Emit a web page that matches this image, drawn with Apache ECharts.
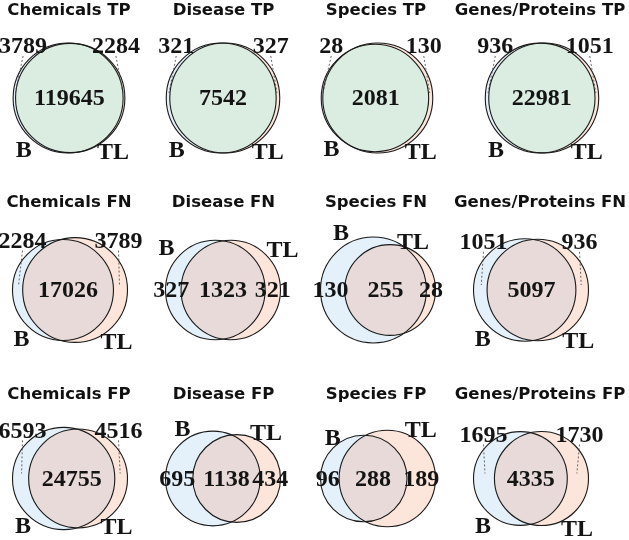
<!DOCTYPE html>
<html><head><meta charset="utf-8">
<script src="https://cdn.jsdelivr.net/npm/echarts@6/dist/echarts.min.js"></script>
<style>html,body{margin:0;padding:0;background:#fff}#c{width:629px;height:540px}</style>
</head><body><div id="c"></div><script>
// ---------------- data ----------------
const panelTitles = ['Chemicals TP','Disease TP','Species TP','Genes/Proteins TP',
                     'Chemicals FN','Disease FN','Species FN','Genes/Proteins FN',
                     'Chemicals FP','Disease FP','Species FP','Genes/Proteins FP'];
const onlyB  = [3789, 321, 28, 936,   2284, 327, 130, 1051,   6593, 695, 96, 1695];
const onlyTL = [2284, 327, 130, 1051, 3789, 321, 28, 936,     4516, 434, 189, 1730];
const both   = [119645, 7542, 2081, 22981, 17026, 1323, 255, 5097, 24755, 1138, 288, 4335];
const setNames = ['B', 'TL'];

// ---------------- layout ----------------
const centerX = [[69, 223, 377, 542], [70, 223, 378, 531], [70, 223, 378, 531]];
const rowY = [98, 290, 482];
const titleX = [69, 223.5, 376, 540];
const titleTop = [2, 194, 386];
const insideStyle = [false,false,false,false, false,true,true,false, false,true,true,false];
// set-label placement: [angle B, extra B, angle TL, extra TL]
const setLabelPos = [
  [130,14,52,15],[130,14,52,15],[130,14,52,15],[130,14,52,15],
  [130,14,52,15],[140,14,37,15],[120,12,64,7],[130,14,52,15],
  [130,12,52,13],[122,10,57,10],[128,7,55,10],[128,14,55,15]];
const lensColor = ['#dbece1', '#e7dad8', '#e7dad8'];
const colB = '#e4f1fb', colTL = '#fce5da';
const G = 130, FITW = 115, FITH = 110;

function lensArea(r1, r2, d) {
  if (d >= r1 + r2) return 0;
  if (d <= Math.abs(r1 - r2)) return Math.PI * Math.min(r1, r2) ** 2;
  const a1 = Math.acos((d*d + r1*r1 - r2*r2) / (2*d*r1));
  const a2 = Math.acos((d*d + r2*r2 - r1*r1) / (2*d*r2));
  return r1*r1*a1 + r2*r2*a2 - 0.5*Math.sqrt((-d+r1+r2)*(d+r1-r2)*(d-r1+r2)*(d+r1+r2));
}
function solveD(r1, r2, target) {
  let lo = Math.abs(r1 - r2), hi = r1 + r2;
  for (let it = 0; it < 80; it++) {
    const m = (lo + hi) / 2;
    if (lensArea(r1, r2, m) > target) lo = m; else hi = m;
  }
  return (lo + hi) / 2;
}

const numFont = {fontFamily: 'Liberation Serif', fontWeight: 'bold', fontSize: 24};
function txt(text, x, y) {
  return {type: 'text', x: x, y: y, z2: 10,
    style: Object.assign({text: String(text), fill: '#141414', align: 'center', verticalAlign: 'middle'}, numFont)};
}
function leader(x1, y1, x2, y2) {
  return {type: 'line', z2: 8, shape: {x1, y1, x2, y2},
    style: {stroke: '#444', lineWidth: 0.8, lineDash: [2, 2], fill: null}};
}

function makeRender(i, row) {
  return function (params, api) {
    const d = api.value(1), r1 = api.value(2), r2 = api.value(3);
    const p1 = api.coord([0, 0]), p2 = api.coord([d, 0]);
    const X1 = p1[0], X2 = p2[0], Y = p1[1];
    const R1 = api.size([r1, 0])[0], R2 = api.size([r2, 0])[0];
    const D = X2 - X1;
    const ch = [];
    ch.push({type: 'circle', shape: {cx: X1, cy: Y, r: R1}, style: {fill: colB, stroke: null}});
    ch.push({type: 'circle', shape: {cx: X2, cy: Y, r: R2}, style: {fill: colTL, stroke: null}});
    if (D <= Math.abs(R1 - R2)) {
      const small = R1 < R2 ? {cx: X1, r: R1} : {cx: X2, r: R2};
      ch.push({type: 'circle', shape: {cx: small.cx, cy: Y, r: small.r}, style: {fill: lensColor[row]}});
    } else {
      const a = (D*D + R1*R1 - R2*R2) / (2*D);
      const t1 = Math.acos(Math.max(-1, Math.min(1, a / R1)));
      const t2 = Math.acos(Math.max(-1, Math.min(1, (D - a) / R2)));
      const pts = [];
      const N = 90;
      for (let j = 0; j <= N; j++) { const t = -t1 + 2*t1*j/N; pts.push([X1 + R1*Math.cos(t), Y + R1*Math.sin(t)]); }
      for (let j = 0; j <= N; j++) { const t = Math.PI - t2 + 2*t2*j/N; pts.push([X2 + R2*Math.cos(t), Y + R2*Math.sin(t)]); }
      ch.push({type: 'polygon', shape: {points: pts}, style: {fill: lensColor[row]}});
    }
    ch.push({type: 'circle', shape: {cx: X1, cy: Y, r: R1}, style: {fill: null, stroke: '#1a1a1a', lineWidth: 1.1}});
    ch.push({type: 'circle', shape: {cx: X2, cy: Y, r: R2}, style: {fill: null, stroke: '#1a1a1a', lineWidth: 1.1}});

    const bL = X1 - R1, bR = X1 + R1, tL = X2 - R2, tR = X2 + R2;
    const uL = Math.min(bL, tL), uR = Math.max(bR, tR), hh = Math.max(R1, R2);
    const uT = Y - hh;
    const vB = api.value(4), vT = api.value(5), vBoth = api.value(6);
    const deg = Math.PI / 180;
    const sp = setLabelPos[i];
    if (!insideStyle[i]) {
      const lx = uL + 10, rx = uR - 9, ny = uT + 4;
      ch.push(txt(vB, lx, ny));
      ch.push(txt(vT, rx, ny));
      ch.push(leader(lx, ny + 9, (bL + tL) / 2 + 1, Y - 5));
      ch.push(leader(rx, ny + 9, (bR + tR) / 2 - 1, Y - 5));
      ch.push(txt(vBoth, (tL + bR) / 2, Y + 1));
      ch.push(txt(setNames[0], X1 + (R1 + sp[1]) * Math.cos(sp[0]*deg), Y + (R1 + sp[1]) * Math.sin(sp[0]*deg)));
      ch.push(txt(setNames[1], X2 + (R2 + sp[3]) * Math.cos(sp[2]*deg), Y + (R2 + sp[3]) * Math.sin(sp[2]*deg)));
    } else {
      ch.push(txt(vB, (bL + tL) / 2 - 2, Y + 1));
      ch.push(txt(vT, (bR + tR) / 2, Y + 1));
      ch.push(txt(vBoth, (tL + bR) / 2, Y + 1));
      ch.push(txt(setNames[0], X1 + (R1 + sp[1]) * Math.cos(sp[0]*deg), Y - (R1 + sp[1]) * Math.sin(sp[0]*deg)));
      ch.push(txt(setNames[1], X2 + (R2 + sp[3]) * Math.cos(sp[2]*deg), Y - (R2 + sp[3]) * Math.sin(sp[2]*deg)));
    }
    return {type: 'group', children: ch};
  };
}

const grids = [], xAxes = [], yAxes = [], series = [], titles = [];
for (let i = 0; i < 12; i++) {
  const row = Math.floor(i / 4), col = i % 4;
  const r1 = Math.sqrt((onlyB[i] + both[i]) / Math.PI);
  const r2 = Math.sqrt((onlyTL[i] + both[i]) / Math.PI);
  const d = solveD(r1, r2, both[i]);
  const left = Math.min(-r1, d - r2), right = Math.max(r1, d + r2), hh = Math.max(r1, r2);
  const k = Math.min(FITW / (right - left), FITH / (2 * hh));
  const mid = (left + right) / 2, half = G / 2 / k;
  const cx = centerX[row][col], cy = rowY[row];
  grids.push({left: cx - G / 2, top: cy - G / 2, width: G, height: G, show: false});
  xAxes.push({type: 'value', gridIndex: i, min: mid - half, max: mid + half, show: false});
  yAxes.push({type: 'value', gridIndex: i, min: -half, max: half, show: false});
  series.push({type: 'custom', xAxisIndex: i, yAxisIndex: i, clip: false, silent: true,
    encode: {x: 0, y: 0},
    data: [[0, d, r1, r2, onlyB[i], onlyTL[i], both[i]]], renderItem: makeRender(i, row)});
  titles.push({text: panelTitles[i], left: titleX[col], top: titleTop[row], textAlign: 'center', padding: 0,
    textStyle: {fontFamily: 'DejaVu Sans', fontWeight: 'bold', fontSize: 16.5, color: '#111', lineHeight: 18}});
}

const chart = echarts.init(document.getElementById('c'), null, {renderer: 'canvas'});
chart.setOption({animation: false, backgroundColor: '#fff', title: titles, grid: grids, xAxis: xAxes, yAxis: yAxes, series: series});
</script></body></html>
